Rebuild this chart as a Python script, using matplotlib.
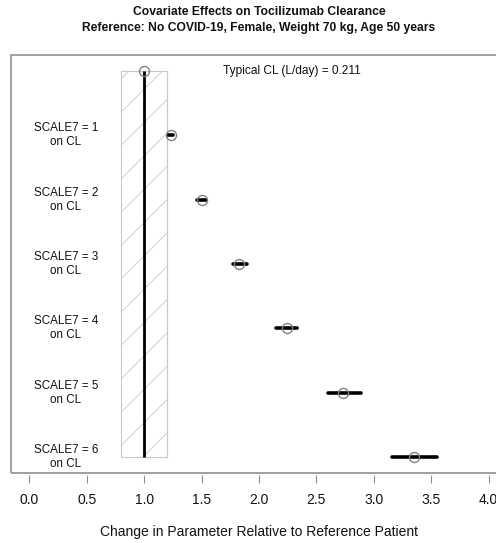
import matplotlib
matplotlib.use("Agg")
import matplotlib.pyplot as plt
from matplotlib.patches import Rectangle
import numpy as np

plt.rcParams['font.family'] = ['Liberation Sans', 'DejaVu Sans']
plt.rcParams['hatch.linewidth'] = 0.6

# ---- data ----
covariate_labels = ["SCALE7 = 1\non CL", "SCALE7 = 2\non CL", "SCALE7 = 3\non CL",
                    "SCALE7 = 4\non CL", "SCALE7 = 5\non CL", "SCALE7 = 6\non CL"]
effect_median = [1.23, 1.50, 1.83, 2.24, 2.73, 3.35]
effect_lower = [1.21, 1.46, 1.77, 2.15, 2.60, 3.16]
effect_upper = [1.25, 1.54, 1.90, 2.33, 2.89, 3.55]
reference_value = 1.0
band_low, band_high = 0.8, 1.2
typical_cl = 0.211
x_ticks = [0.0, 0.5, 1.0, 1.5, 2.0, 2.5, 3.0, 3.5, 4.0]

W, H = 496, 543
fig = plt.figure(figsize=(W / 100, H / 100), dpi=100)
left_px, right_px, top_px, bot_px = 10.9, 507.0, 55.5, 472.5
ax = fig.add_axes([left_px / W, (H - bot_px) / H, (right_px - left_px) / W, (bot_px - top_px) / H])

n = len(covariate_labels)
ref_y = n + 1
rows = np.arange(n, 0, -1)  # SCALE7=1 at top ... SCALE7=6 at bottom

ax.set_xlim(-0.16, 4.16)
ax.set_ylim(1 - 0.24, ref_y + 0.24)

# hatched reference band
ax.add_patch(Rectangle((band_low, 1), band_high - band_low, ref_y - 1,
                       facecolor='none', edgecolor='#c8c8c8', hatch='/', lw=0.8, zorder=1))
# reference vertical line
ax.plot([reference_value, reference_value], [1, ref_y], color='black', lw=2.0, zorder=2,
        solid_capstyle='butt')
ax.plot([reference_value], [ref_y], 'o', mfc='none', mec='#808080', ms=7.2, mew=1.0, zorder=4)

# CIs and medians
for y, lo, hi, m in zip(rows, effect_lower, effect_upper, effect_median):
    ax.plot([lo, hi], [y, y], color='black', lw=2.6, zorder=3, solid_capstyle='round')
    ax.plot([m], [y], 'o', mfc='none', mec='#808080', ms=7.2, mew=1.0, zorder=4)

# labels inside the box
for y, lab in zip(rows, covariate_labels):
    ax.text(0.32, y, lab, ha='center', va='center', fontsize=8.4, color='#111111',
            linespacing=1.2)

ax.text(2.29, ref_y, f"Typical CL (L/day) = {typical_cl}", ha='center', va='center',
        fontsize=8.6, color='#111111')

# box
for s in ax.spines.values():
    s.set_visible(False)
ax.add_patch(Rectangle((0, 0), 1, 1, transform=ax.transAxes, fill=False,
                       edgecolor='#a0a0a0', lw=1.4, clip_on=False, zorder=5))
ax.spines['bottom'].set_position(('outward', 2))

ax.set_yticks([])
ax.set_xticks(x_ticks)
ax.set_xticklabels([f"{t:.1f}" for t in x_ticks])
ax.tick_params(axis='x', direction='out', length=5.5, width=0.8, color='#909090',
               labelsize=10, labelcolor='#111111', pad=7)

ax.set_xlabel("Change in Parameter Relative to Reference Patient", fontsize=10,
              color='#111111', labelpad=13)
ax.set_title("Covariate Effects on Tocilizumab Clearance\n"
             "Reference: No COVID-19, Female, Weight 70 kg, Age 50 years",
             fontsize=8.7, fontweight='bold', pad=18, color='#111111', linespacing=1.35)

fig.savefig("out.png", dpi=100)
